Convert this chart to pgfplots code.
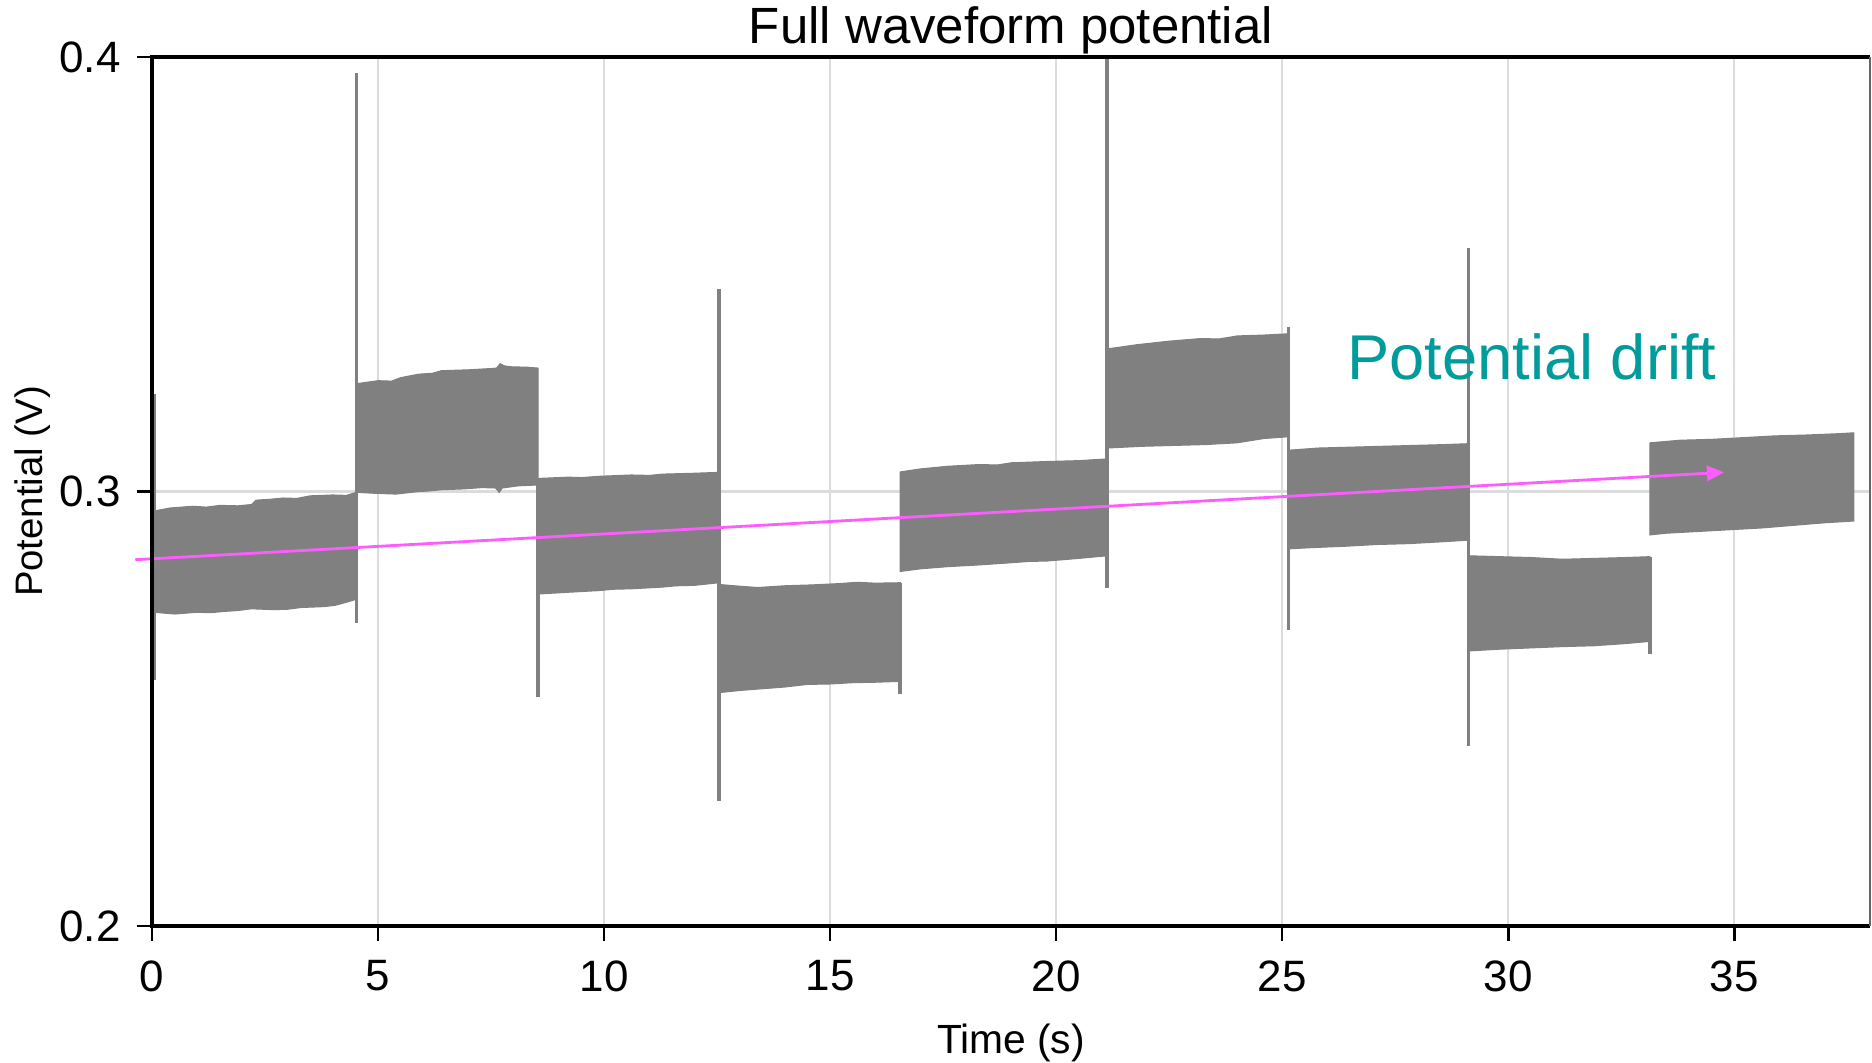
\documentclass[border=0pt]{standalone}
\usepackage{fontspec}
\setmainfont{Liberation Sans}
\usepackage{pgfplots}
\pgfplotsset{compat=1.18}
\usetikzlibrary{arrows.meta}
\definecolor{bandgray}{HTML}{808080}
\definecolor{gridgray}{HTML}{DCDCDC}
\definecolor{driftmag}{HTML}{FF5CFF}
\definecolor{driftteal}{HTML}{009B9B}
\begin{document}
\begin{tikzpicture}
\begin{axis}[
  scale only axis, width=17.18cm, height=8.69cm,
  xmin=0, xmax=38, ymin=0.2, ymax=0.4,
  xtick={0,5,...,35}, ytick={0.2,0.3,0.4},
  yticklabel style={xshift=-0.04cm, /pgf/number format/.cd, fixed, precision=1, fixed zerofill},
  /pgf/number format/assume math mode=true,
  grid=major, major grid style={gridgray, line width=0.6pt},
  tick align=outside, tick pos=left, major tick length=0.15cm,
  tick style={black, line width=0.7pt},
  axis line style={draw=none},
  ticklabel style={font=\fontsize{12.5}{14}\selectfont},
  xticklabel style={yshift=-0.07cm},
  title={Full waveform potential},
  title style={font=\fontsize{14.5}{17}\selectfont, at={(axis description cs:0.5,1.015)}, anchor=base, yshift=-6pt},
  xlabel={Time (s)}, ylabel={Potential (V)},
  xlabel style={font=\fontsize{11.6}{13}\selectfont, at={(axis description cs:0.5,-0.099)}, anchor=north},
  ylabel style={font=\fontsize{10.9}{13}\selectfont, at={(axis description cs:-0.0693,0.5)}, anchor=center},
  clip=false,
]
% bands (envelope of the oscillating signal)
\addplot[fill=bandgray, draw=bandgray, line width=0.3pt] coordinates {
(0.04,0.2955)(0.4,0.2962)(0.9,0.2966)(1.2,0.2964)(1.5,0.2968)(1.9,0.2967)(2.2,0.2970)(2.3,0.2980)(2.6,0.2982)(2.9,0.2985)(3.2,0.2984)(3.5,0.2990)(4.0,0.2992)(4.3,0.2991)(4.52,0.2998)
(4.52,0.2752)(4.3,0.2745)(4.05,0.2738)(3.8,0.2735)(3.3,0.2733)(3.0,0.2729)(2.7,0.2728)(2.2,0.2730)(1.9,0.2726)(1.6,0.2724)(1.3,0.2721)(1.0,0.2722)(0.5,0.2718)(0.04,0.2722)(0.04,0.2955)};
\addplot[fill=bandgray, draw=bandgray, line width=0.3pt] coordinates {
(4.52,0.3248)(5.0,0.3255)(5.3,0.3254)(5.5,0.3262)(5.9,0.3270)(6.2,0.3272)(6.4,0.3278)(7.0,0.3280)(7.5,0.3283)(7.62,0.3284)(7.7,0.3294)(7.8,0.3289)(7.95,0.3287)(8.3,0.3286)(8.54,0.3284)
(8.54,0.3015)(8.1,0.3013)(7.75,0.3008)(7.68,0.2998)(7.6,0.3008)(7.3,0.3009)(6.9,0.3006)(6.4,0.3004)(6.1,0.3001)(5.9,0.3000)(5.4,0.2994)(4.9,0.2996)(4.52,0.2998)(4.52,0.3248)};
\addplot[fill=bandgray, draw=bandgray, line width=0.3pt] coordinates {
(8.54,0.3030)(9.2,0.3033)(9.5,0.3032)(9.9,0.3035)(10.6,0.3038)(11.0,0.3037)(11.3,0.3040)(12.0,0.3042)(12.54,0.3044)
(12.54,0.2790)(12.0,0.2784)(11.6,0.2783)(11.3,0.2780)(10.6,0.2776)(10.2,0.2775)(9.9,0.2772)(9.2,0.2768)(8.54,0.2764)(8.54,0.3030)};
\addplot[fill=bandgray, draw=bandgray, line width=0.3pt] coordinates {
(12.54,0.2786)(13.0,0.2782)(13.4,0.2779)(14.0,0.2783)(14.6,0.2785)(15.2,0.2788)(15.6,0.2791)(16.0,0.2789)(16.55,0.2790)
(16.55,0.2563)(16.0,0.2561)(15.5,0.2560)(15.0,0.2557)(14.5,0.2556)(14.0,0.2550)(13.5,0.2546)(13.0,0.2542)(12.54,0.2537)(12.54,0.2786)};
\addplot[fill=bandgray, draw=bandgray, line width=0.3pt] coordinates {
(16.55,0.3045)(17.0,0.3052)(17.6,0.3058)(18.3,0.3062)(18.7,0.3061)(19.0,0.3066)(19.8,0.3069)(20.5,0.3071)(21.12,0.3075)
(21.12,0.2852)(20.5,0.2846)(19.8,0.2840)(19.4,0.2839)(19.0,0.2836)(18.3,0.2831)(17.6,0.2827)(17.0,0.2822)(16.55,0.2816)(16.55,0.3045)};
\addplot[fill=bandgray, draw=bandgray, line width=0.3pt] coordinates {
(21.12,0.3328)(21.8,0.3338)(22.5,0.3346)(23.2,0.3352)(23.6,0.3351)(24.0,0.3358)(24.6,0.3360)(25.14,0.3363)
(25.14,0.3126)(24.6,0.3122)(24.0,0.3112)(23.3,0.3108)(22.6,0.3106)(21.9,0.3104)(21.12,0.3100)(21.12,0.3328)};
\addplot[fill=bandgray, draw=bandgray, line width=0.3pt] coordinates {
(25.14,0.3095)(25.8,0.3100)(26.5,0.3102)(27.2,0.3104)(27.9,0.3106)(28.6,0.3108)(29.12,0.3110)
(29.12,0.2888)(28.5,0.2884)(27.8,0.2880)(27.1,0.2878)(26.4,0.2874)(25.7,0.2871)(25.14,0.2868)(25.14,0.3095)};
\addplot[fill=bandgray, draw=bandgray, line width=0.3pt] coordinates {
(29.12,0.2852)(29.8,0.2850)(30.5,0.2848)(31.2,0.2844)(31.9,0.2846)(32.6,0.2848)(33.13,0.2850)
(33.13,0.2655)(32.6,0.2650)(31.9,0.2645)(31.2,0.2643)(30.5,0.2640)(29.8,0.2637)(29.12,0.2633)(29.12,0.2852)};
\addplot[fill=bandgray, draw=bandgray, line width=0.3pt] coordinates {
(33.13,0.3112)(33.8,0.3118)(34.5,0.3120)(35.2,0.3124)(35.9,0.3128)(36.6,0.3130)(37.3,0.3133)(37.64,0.3135)
(37.64,0.2932)(37.0,0.2928)(36.3,0.2922)(35.6,0.2916)(34.9,0.2912)(34.2,0.2908)(33.5,0.2904)(33.13,0.2900)(33.13,0.3112)};
% transition spikes
\addplot[bandgray, line width=1pt] coordinates {(0.04,0.2566) (0.04,0.3225)};
\addplot[bandgray, line width=1pt] coordinates {(4.52,0.2698) (4.52,0.3962)};
\addplot[bandgray, line width=1pt] coordinates {(8.54,0.2527) (8.54,0.3030)};
\addplot[bandgray, line width=1pt] coordinates {(12.54,0.2288) (12.54,0.3467)};
\addplot[bandgray, line width=1pt] coordinates {(16.55,0.2533) (16.55,0.2790)};
\addplot[bandgray, line width=1pt] coordinates {(21.12,0.2778) (21.12,0.4000)};
\addplot[bandgray, line width=1pt] coordinates {(25.14,0.2681) (25.14,0.3379)};
\addplot[bandgray, line width=1pt] coordinates {(29.12,0.2415) (29.12,0.3560)};
\addplot[bandgray, line width=1pt] coordinates {(33.13,0.2626) (33.13,0.2850)};
% drift arrow
\addplot[driftmag, line width=0.8pt, -{Triangle[length=0.17cm,width=0.15cm]}] coordinates {(-0.37,0.2843) (34.77,0.3044)};
\node[text=driftteal, font=\fontsize{18}{21}\selectfont, anchor=base] at (axis cs:30.52,0.3258) {Potential drift};
% axis lines
\draw[black, line width=1pt] (rel axis cs:1,1) -- (rel axis cs:0,1) -- (rel axis cs:0,0) -- (rel axis cs:1,0);
\draw[black!60, line width=0.5pt] (rel axis cs:1,0) -- (rel axis cs:1,1);
\end{axis}
\pgfresetboundingbox
\path (-1.52,-1.37) rectangle (17.20,9.26);
\end{tikzpicture}
\end{document}
